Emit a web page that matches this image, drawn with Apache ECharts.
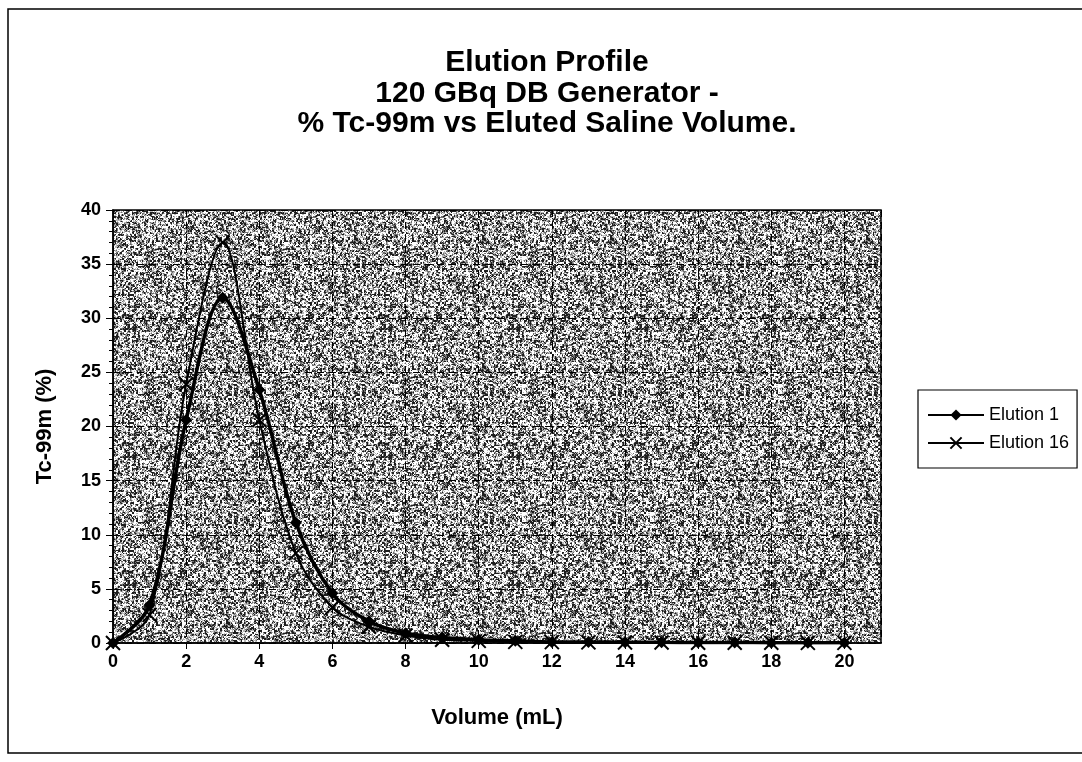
<!DOCTYPE html>
<html>
<head>
<meta charset="utf-8">
<script src="https://cdn.jsdelivr.net/npm/echarts@6/dist/echarts.min.js"></script>
<style>
  html, body { margin: 0; padding: 0; background: #fff; }
  #chart { width: 1082px; height: 762px; }
</style>
</head>
<body>
<div id="chart"></div>
<script>
// Eluted saline volume (mL)
const volumes = [0, 1, 2, 3, 4, 5, 6, 7, 8, 9, 10, 11, 12, 13, 14, 15, 16, 17, 18, 19, 20];
// % Tc-99m collected in each fraction
const elution1 = [0, 3.5, 20.6, 31.9, 23.4, 11.1, 4.6, 2.0, 0.9, 0.5, 0.3, 0.2, 0.1, 0.1, 0.08, 0.06, 0.05, 0.04, 0.03, 0.02, 0.02];
const elution16 = [0, 2.6, 23.9, 37.0, 20.6, 8.3, 3.3, 1.5, 0.7, 0.3, 0.2, 0.1, 0.08, 0.06, 0.05, 0.04, 0.03, 0.02, 0.02, 0.01, 0.01];
const seriesNames = ['Elution 1', 'Elution 16'];
const titleLines = ['Elution Profile', '120 GBq DB Generator -', '% Tc-99m vs Eluted Saline Volume.'];
const xTickLabels = [0, 2, 4, 6, 8, 10, 12, 14, 16, 18, 20];

const FONT = '"Liberation Sans", Arial, sans-serif';

// Stippled grey fill for the plot area, built from a fixed hash so it is reproducible
function hash(x, y, s) {
  let h = (x * 374761393 + y * 668265263 + s * 982451653) | 0;
  h = Math.imul(h ^ (h >>> 13), 1274126177);
  h = (h ^ (h >>> 16)) >>> 0;
  return (h & 1023) / 1023;
}
function stipple() {
  const size = 128;
  const c = document.createElement('canvas');
  c.width = size; c.height = size;
  const ctx = c.getContext('2d');
  const img = ctx.createImageData(size, size);
  for (let y = 0; y < size; y++) {
    for (let x = 0; x < size; x++) {
      const r = 0.55 * hash(x >> 1, y >> 1, 7) + 0.45 * hash(x, y, 3);
      const v = r < 0.36 ? 30 : r < 0.47 ? 110 : r < 0.6 ? 185 : 255;
      const i = (y * size + x) * 4;
      img.data[i] = v; img.data[i + 1] = v; img.data[i + 2] = v; img.data[i + 3] = 255;
    }
  }
  ctx.putImageData(img, 0, 0);
  return c;
}

const crossPath = 'path://M0,0L10,10M10,0L0,10';

const chart = echarts.init(document.getElementById('chart'), null, { renderer: 'canvas' });

const titleGraphics = titleLines.map((t, i) => ({
  type: 'text',
  x: 547,
  y: 63 + i * 30.5,
  style: {
    text: t,
    fill: '#000',
    font: 'bold 30px ' + FONT,
    textAlign: 'center',
    textVerticalAlign: 'middle'
  }
}));

chart.setOption({
  animation: false,
  backgroundColor: '#fff',
  textStyle: { fontFamily: FONT, color: '#000' },
  graphic: [
    {
      type: 'rect',
      shape: { x: 8, y: 9, width: 1090, height: 744 },
      style: { fill: 'none', stroke: '#000', lineWidth: 1.5 },
      silent: true
    }
  ].concat(titleGraphics),
  grid: {
    left: 113, right: 201, top: 210, bottom: 119,
    show: true,
    backgroundColor: { image: stipple(), repeat: 'repeat' },
    borderColor: '#000',
    borderWidth: 1.5
  },
  legend: {
    left: 918, top: 390,
    orient: 'vertical',
    backgroundColor: '#fff',
    borderColor: '#000',
    borderWidth: 1.2,
    padding: [16, 8, 16, 9],
    itemWidth: 56, itemHeight: 14, itemGap: 10,
    textStyle: { fontSize: 18, color: '#000', fontFamily: FONT },
    data: seriesNames
  },
  xAxis: {
    type: 'value',
    min: 0, max: 21, interval: 2,
    name: 'Volume (mL)',
    nameLocation: 'middle',
    nameGap: 64,
    nameTextStyle: { fontSize: 22, fontWeight: 'bold', color: '#000' },
    axisLine: { show: true, onZero: false, lineStyle: { color: '#000', width: 1.5 } },
    axisTick: { show: true, length: 6, lineStyle: { color: '#000' } },
    axisLabel: {
      fontSize: 18, fontWeight: 'bold', color: '#000', margin: 10,
      showMaxLabel: false,
      formatter: v => (xTickLabels.indexOf(v) >= 0 ? String(v) : '')
    },
    splitLine: { show: true, lineStyle: { color: '#000', type: [7, 5], width: 1 } }
  },
  yAxis: {
    type: 'value',
    min: 0, max: 40, interval: 5,
    name: 'Tc-99m (%)',
    nameLocation: 'middle',
    nameGap: 57,
    nameTextStyle: { fontSize: 22, fontWeight: 'bold', color: '#000' },
    axisLine: { show: true, lineStyle: { color: '#000', width: 1.5 } },
    axisTick: { show: true, length: 7, lineStyle: { color: '#000' } },
    minorTick: { show: true, splitNumber: 5, length: 4, lineStyle: { color: '#000' } },
    axisLabel: { fontSize: 18, fontWeight: 'bold', color: '#000', margin: 12 },
    splitLine: { show: true, lineStyle: { color: '#000', type: [7, 5], width: 1 } }
  },
  series: [
    {
      name: seriesNames[0],
      type: 'line',
      smooth: 0.35,
      data: volumes.map((v, i) => [v, elution1[i]]),
      symbol: 'diamond',
      symbolSize: 12,
      lineStyle: { color: '#000', width: 3.5 },
      itemStyle: { color: '#000' },
      z: 3
    },
    {
      name: seriesNames[1],
      type: 'line',
      smooth: 0.35,
      data: volumes.map((v, i) => [v, elution16[i]]),
      symbol: crossPath,
      symbolSize: 14,
      lineStyle: { color: '#000', width: 2 },
      itemStyle: { color: 'transparent', borderColor: '#000', borderWidth: 2 },
      z: 2
    }
  ]
});
</script>
</body>
</html>
